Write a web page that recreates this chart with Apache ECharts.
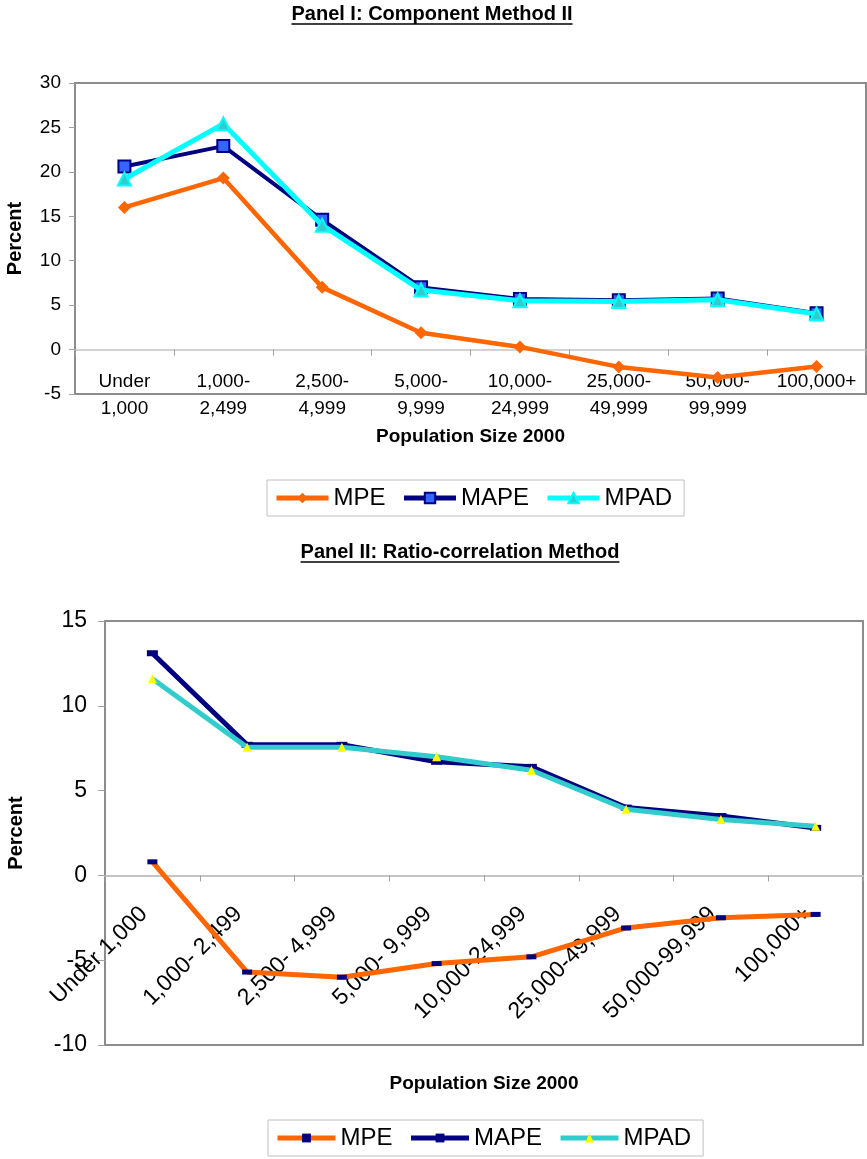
<!DOCTYPE html>
<html>
<head>
<meta charset="utf-8">
<title>Forecast error by population size</title>
<script src="https://cdn.jsdelivr.net/npm/echarts@6/dist/echarts.min.js"></script>
<style>
  html, body { margin: 0; padding: 0; background: #ffffff; }
  #chart { width: 867px; height: 1159px; }
</style>
</head>
<body>
<div id="chart"></div>
<script>
const FONT = "'Liberation Sans', Arial, Helvetica, sans-serif";

// ---- Panel I: Component Method II ----
const sizeClassesI = ['Under\n1,000', '1,000-\n2,499', '2,500-\n4,999', '5,000-\n9,999',
  '10,000-\n24,999', '25,000-\n49,999', '50,000-\n99,999', '100,000+'];
const mpeI  = [16.0, 19.3, 7.0, 1.9, 0.3, -1.95, -3.15, -1.9];
const mapeI = [20.6, 22.9, 14.6, 7.0, 5.7, 5.55, 5.75, 4.1];
const mpadI = [19.2, 25.4, 14.0, 6.7, 5.5, 5.4, 5.6, 4.0];
const yRangeI = [-5, 30, 5];   // min, max, step

// ---- Panel II: Ratio-correlation Method ----
const sizeClassesII = ['Under 1,000', '1,000- 2,499', '2,500- 4,999', '5,000- 9,999',
  '10,000-24,999', '25,000-49,999', '50,000-99,999', '100,000+'];
const mpeII  = [0.8, -5.7, -6.0, -5.2, -4.8, -3.1, -2.5, -2.3];
const mapeII = [13.1, 7.7, 7.7, 6.7, 6.4, 4.0, 3.5, 2.8];
const mpadII = [11.6, 7.55, 7.55, 7.0, 6.2, 3.9, 3.3, 2.9];
const yRangeII = [-10, 15, 5];

const seriesNames = ['MPE', 'MAPE', 'MPAD'];
const panelTitles = ['Panel I: Component Method II', 'Panel II: Ratio-correlation Method'];
const xAxisTitle = 'Population Size 2000';
const yAxisTitle = 'Percent';

const ORANGE = '#FF6600', NAVY = '#000080', CYAN = '#00FFFF', TEAL = '#33CCCC';
const BORDER = '#8c8c8c', ZERO = '#c4c4c4';

// underlined bold titles
function measure(text, font) {
  const c = document.createElement('canvas').getContext('2d');
  c.font = font;
  return c.measureText(text).width;
}
function underlinedTitle(text, cx, cy, size) {
  const w = measure(text, 'bold ' + size + 'px ' + FONT);
  return [
    { type: 'text', x: cx, y: cy, style: { text: text, fill: '#000', font: 'bold ' + size + 'px ' + FONT, align: 'center', verticalAlign: 'middle' } },
    { type: 'line', shape: { x1: cx - w / 2, y1: cy + size * 0.5, x2: cx + w / 2, y2: cy + size * 0.5 }, style: { stroke: '#000', lineWidth: 1.5 } }
  ];
}

const chart = echarts.init(document.getElementById('chart'), null, { renderer: 'canvas' });

const legendBase = {
  orient: 'horizontal',
  borderColor: '#c0c0c0',
  borderWidth: 1,
  backgroundColor: '#fff',
  itemGap: 16,
  lineStyle: { width: 5 },
  textStyle: { fontSize: 24, color: '#000', fontFamily: FONT },
  selectedMode: false
};

const option = {
  animation: false,
  backgroundColor: '#ffffff',
  textStyle: { fontFamily: FONT },
  graphic: [].concat(
    underlinedTitle(panelTitles[0], 432, 14, 20),
    underlinedTitle(panelTitles[1], 460, 552, 20)
  ),
  legend: [
    Object.assign({}, legendBase, {
      left: 267, top: 480,
      padding: [6, 12, 6, 7],
      itemWidth: 52, itemHeight: 13,
      data: seriesNames.map(n => n)
    }),
    Object.assign({}, legendBase, {
      left: 268, top: 1120,
      padding: [6, 12, 6, 7],
      itemWidth: 58, itemHeight: 11,
      data: seriesNames.map(n => n + '|II'),
      formatter: n => n.split('|')[0]
    })
  ],
  grid: [
    { left: 75, top: 83, width: 791, height: 311, outerBoundsMode: 'none', containLabel: false,
      show: true, borderColor: BORDER, borderWidth: 2, backgroundColor: '#fff' },
    { left: 105, top: 621, width: 758, height: 424, outerBoundsMode: 'none', containLabel: false,
      show: true, borderColor: BORDER, borderWidth: 2, backgroundColor: '#fff' }
  ],
  xAxis: [
    {
      type: 'category', gridIndex: 0, data: sizeClassesI, boundaryGap: true,
      axisLine: { onZero: true, lineStyle: { color: ZERO, width: 1.5 } },
      axisTick: { show: true, length: 6, lineStyle: { color: '#a0a0a0' } },
      axisLabel: { interval: 0, fontSize: 19, lineHeight: 27, color: '#000', margin: -26, fontFamily: FONT },
      name: xAxisTitle, nameLocation: 'middle', nameGap: 33,
      nameTextStyle: { fontSize: 19, fontWeight: 'bold', color: '#000', fontFamily: FONT },
      splitLine: { show: false }
    },
    {
      type: 'category', gridIndex: 1, data: sizeClassesII, boundaryGap: true,
      axisLine: { onZero: true, lineStyle: { color: ZERO, width: 2 } },
      axisTick: { show: true, length: 6, lineStyle: { color: '#a0a0a0' } },
      axisLabel: { interval: 0, rotate: 45, fontSize: 23, color: '#000', margin: -143,
        padding: [0, 12, 0, 0], fontFamily: FONT },
      name: xAxisTitle, nameLocation: 'middle', nameGap: 29,
      nameTextStyle: { fontSize: 19, fontWeight: 'bold', color: '#000', fontFamily: FONT },
      splitLine: { show: false }
    }
  ],
  yAxis: [
    {
      type: 'value', gridIndex: 0, min: yRangeI[0], max: yRangeI[1], interval: yRangeI[2],
      axisLine: { show: true, lineStyle: { color: BORDER, width: 2 } },
      axisTick: { show: true, length: 6, lineStyle: { color: '#a0a0a0' } },
      axisLabel: { fontSize: 19, color: '#000', margin: 14, fontFamily: FONT },
      splitLine: { show: false },
      name: yAxisTitle, nameLocation: 'middle', nameRotate: 90, nameGap: 50,
      nameTextStyle: { fontSize: 20, fontWeight: 'bold', color: '#000', fontFamily: FONT }
    },
    {
      type: 'value', gridIndex: 1, min: yRangeII[0], max: yRangeII[1], interval: yRangeII[2],
      axisLine: { show: true, lineStyle: { color: BORDER, width: 2 } },
      axisTick: { show: true, length: 7, lineStyle: { color: '#a0a0a0' } },
      axisLabel: { fontSize: 23, color: '#000', margin: 18, fontFamily: FONT },
      splitLine: { show: false },
      name: yAxisTitle, nameLocation: 'middle', nameRotate: 90, nameGap: 79,
      nameTextStyle: { fontSize: 20, fontWeight: 'bold', color: '#000', fontFamily: FONT }
    }
  ],
  series: [
    // Panel I
    {
      name: 'MPE', type: 'line', xAxisIndex: 0, yAxisIndex: 0, data: mpeI,
      symbol: 'diamond', symbolSize: 13, showAllSymbol: true,
      lineStyle: { color: ORANGE, width: 4.5 }, itemStyle: { color: ORANGE }, z: 3
    },
    {
      name: 'MAPE', type: 'line', xAxisIndex: 0, yAxisIndex: 0, data: mapeI,
      symbol: 'rect', symbolSize: 12, showAllSymbol: true,
      lineStyle: { color: NAVY, width: 4 }, itemStyle: { color: '#3366FF', borderColor: NAVY, borderWidth: 2 }, z: 3
    },
    {
      name: 'MPAD', type: 'line', xAxisIndex: 0, yAxisIndex: 0, data: mpadI,
      symbol: 'triangle', symbolSize: 13, showAllSymbol: true,
      lineStyle: { color: CYAN, width: 5 }, itemStyle: { color: TEAL, borderColor: CYAN, borderWidth: 2 }, z: 4
    },
    // Panel II
    {
      name: 'MPE|II', type: 'line', xAxisIndex: 1, yAxisIndex: 1, data: mpeII,
      symbol: 'rect', symbolSize: [10, 5], showAllSymbol: true,
      lineStyle: { color: ORANGE, width: 5 }, itemStyle: { color: NAVY }, z: 3
    },
    {
      name: 'MAPE|II', type: 'line', xAxisIndex: 1, yAxisIndex: 1, data: mapeII,
      symbol: 'rect', symbolSize: [11, 6], showAllSymbol: true,
      lineStyle: { color: NAVY, width: 5 }, itemStyle: { color: NAVY }, z: 3
    },
    {
      name: 'MPAD|II', type: 'line', xAxisIndex: 1, yAxisIndex: 1, data: mpadII,
      symbol: 'triangle', symbolSize: 9, showAllSymbol: true,
      lineStyle: { color: TEAL, width: 5 }, itemStyle: { color: '#FFFF00' }, z: 4
    }
  ]
};

chart.setOption(option);
</script>
</body>
</html>
